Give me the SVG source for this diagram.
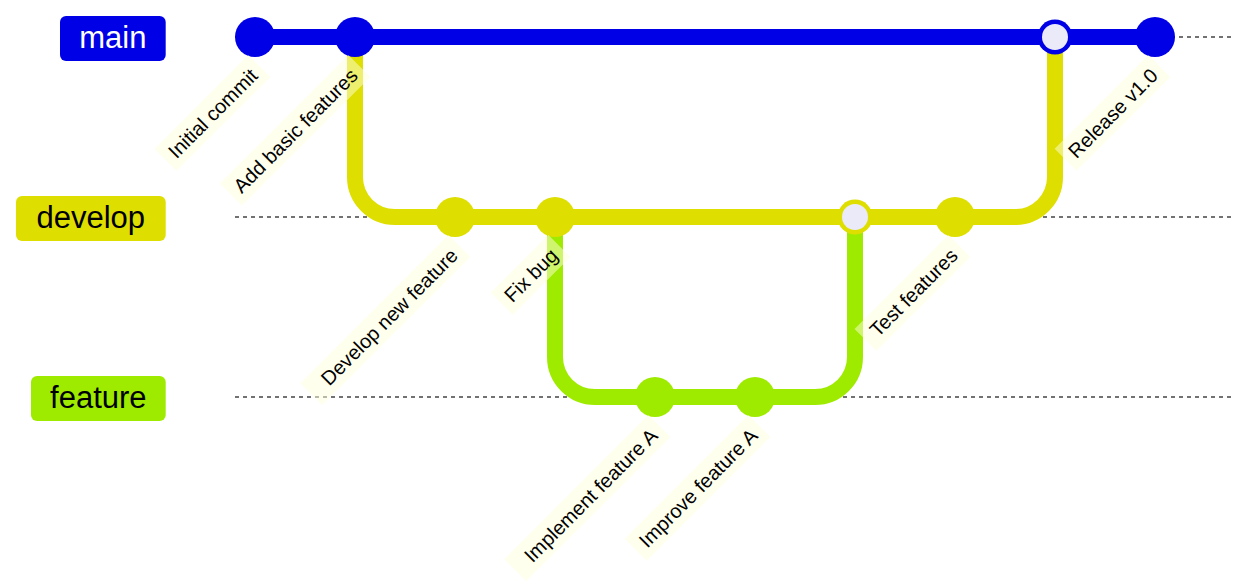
<svg xmlns="http://www.w3.org/2000/svg" width="1251" height="587" viewBox="0 0 1251 587">
<style>
.lane{stroke:#444;stroke-width:1.6;stroke-dasharray:4 4;fill:none}
.arrow{fill:none;stroke-width:16;stroke-linecap:butt}
.blabel{font-family:"Liberation Sans",Arial,sans-serif;font-size:31px;text-anchor:middle}
.clabel{font-family:"Liberation Sans",Arial,sans-serif;font-size:20px;text-anchor:end;fill:#000}
.cbkg{fill:#ffffde;fill-opacity:0.5}
.inner{fill:#eaeaf9}
</style>
<rect width="1251" height="587" fill="#fff"/>
<g id="lanes">
<line class="lane" x1="235" y1="37" x2="1232" y2="37"/>
<line class="lane" x1="235" y1="217" x2="1232" y2="217"/>
<line class="lane" x1="235" y1="397" x2="1232" y2="397"/>
</g>
<g id="branch-main">
<rect x="60" y="16" width="105.7" height="45" rx="6" fill="#0000e6"/>
<text class="blabel" x="112.8" y="48" fill="#fff">main</text>
</g>
<g id="branch-develop">
<rect x="16" y="196" width="149.7" height="45" rx="6" fill="#dede00"/>
<text class="blabel" x="90.8" y="228" fill="#000">develop</text>
</g>
<g id="branch-feature">
<rect x="31" y="376" width="134.7" height="45" rx="6" fill="#9eeb00"/>
<text class="blabel" x="98.3" y="408" fill="#000">feature</text>
</g>
<g id="connectors">
<path class="arrow" stroke="#0000e6" d="M255,37 L1155,37"/>
<path class="arrow" stroke="#dede00" d="M355,37 L355,177 A40,40 0 0,0 395,217 L1015,217 A40,40 0 0,0 1055,177 L1055,37"/>
<path class="arrow" stroke="#9eeb00" d="M555,217 L555,357 A40,40 0 0,0 595,397 L815,397 A40,40 0 0,0 855,357 L855,217"/>
</g>
<g id="commits">
<g id="c-initial"><circle cx="255" cy="37" r="20" fill="#0000e6"/></g>
<g id="c-basic"><circle cx="355" cy="37" r="20" fill="#0000e6"/></g>
<g id="c-devnew"><circle cx="455" cy="217" r="20" fill="#dede00"/></g>
<g id="c-fixbug"><circle cx="555" cy="217" r="20" fill="#dede00"/></g>
<g id="c-implA"><circle cx="655" cy="397" r="20" fill="#9eeb00"/></g>
<g id="c-improveA"><circle cx="755" cy="397" r="20" fill="#9eeb00"/></g>
<g id="c-merge-feature"><circle cx="855" cy="217" r="17.5" fill="#dede00"/><circle class="inner" cx="855" cy="217" r="13"/></g>
<g id="c-test"><circle cx="955" cy="217" r="20" fill="#dede00"/></g>
<g id="c-merge-develop"><circle cx="1055" cy="37" r="17.5" fill="#0000e6"/><circle class="inner" cx="1055" cy="37" r="13"/></g>
<g id="c-release"><circle cx="1155" cy="37" r="20" fill="#0000e6"/></g>
</g>
<g id="labels">
<g transform="translate(259,77) rotate(-45)"><rect class="cbkg" x="-124.7" y="-23" width="132.7" height="31"/><text class="clabel">Initial commit</text></g>
<g transform="translate(359,77) rotate(-45)"><rect class="cbkg" x="-173.6" y="-23" width="181.6" height="31"/><text class="clabel">Add basic features</text></g>
<g transform="translate(459,257) rotate(-45)"><rect class="cbkg" x="-201.4" y="-23" width="209.4" height="31"/><text class="clabel">Develop new feature</text></g>
<g transform="translate(559,257) rotate(-45)"><rect class="cbkg" x="-73.6" y="-23" width="81.6" height="31"/><text class="clabel">Fix bug</text></g>
<g transform="translate(659,437) rotate(-45)"><rect class="cbkg" x="-195.8" y="-23" width="203.8" height="31"/><text class="clabel">Implement feature A</text></g>
<g transform="translate(759,437) rotate(-45)"><rect class="cbkg" x="-167" y="-23" width="175" height="31"/><text class="clabel">Improve feature A</text></g>
<g transform="translate(959,257) rotate(-45)"><rect class="cbkg" x="-124.7" y="-23" width="132.7" height="31"/><text class="clabel">Test features</text></g>
<g transform="translate(1159,77) rotate(-45)"><rect class="cbkg" x="-124.6" y="-23" width="132.6" height="31"/><text class="clabel">Release v1.0</text></g>
</g>
</svg>
